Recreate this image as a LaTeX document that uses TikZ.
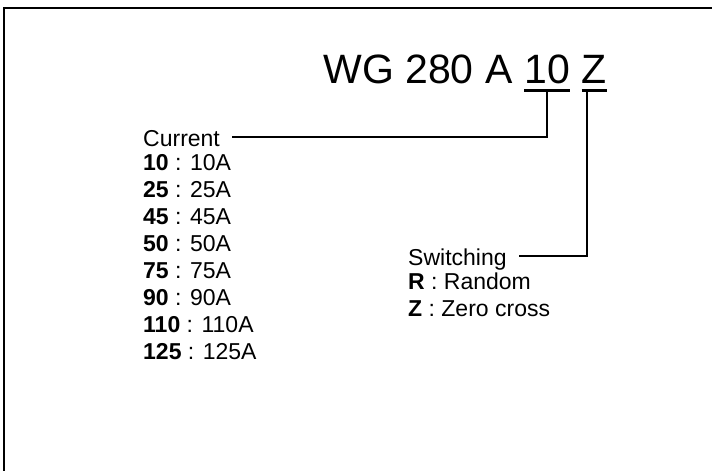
\documentclass[tikz,border=0pt]{standalone}
\usepackage{fontspec}
\setmainfont{Liberation Sans}
\usetikzlibrary{calc}
\begin{document}
\begin{tikzpicture}[x=1pt,y=-1pt,
  conn/.style={line width=2pt},
  uline/.style={line width=3pt},
  title/.style={font=\fontsize{41}{48}\selectfont, inner sep=0pt, anchor=base east},
  lbl/.style={font=\fontsize{23}{27}\selectfont, inner sep=0pt, anchor=base west, align=left}]
\useasboundingbox (0,0) rectangle (712,471);
\draw[line width=2pt] (4,471) -- (4,8) -- (712,8);
% title
\node[title] (tZ) at (607,83) {Z};
\node[title] (t10) at ([xshift=-11.4pt]tZ.base west) {10};
\node[title] (tpre) at ([xshift=-11.4pt]t10.base west) {WG 280 A};
\draw[uline] ([yshift=-7pt]t10.base west) -- ([yshift=-7pt]t10.base east);
\draw[uline] ([yshift=-7pt]tZ.base west) -- ([yshift=-7pt]tZ.base east);
\coordinate (d10) at ($(t10.base west)!0.5!(t10.base east)+(0,-7pt)$);
\coordinate (dZ) at ([xshift=5pt,yshift=-7pt]tZ.base west);
% current
\node[lbl] (cur) at (143,146) {Current};
\node[lbl, anchor=north west] (curlist) at ([yshift=-8pt]cur.base west) {%
\textbf{10} : 10A\\ \textbf{25} : 25A\\ \textbf{45} : 45A\\ \textbf{50} : 50A\\
\textbf{75} : 75A\\ \textbf{90} : 90A\\ \textbf{110} : 110A\\ \textbf{125} : 125A};
\draw[conn] (d10) |- ([xshift=12pt,yshift=9pt]cur.base east);
% switching
\node[lbl] (sw) at (408,265) {Switching};
\node[lbl, anchor=north west] (swlist) at ([yshift=-8pt]sw.base west) {%
\textbf{R} : Random\\ \textbf{Z} : Zero cross};
\draw[conn] (dZ) |- ([xshift=12pt,yshift=9pt]sw.base east);
\end{tikzpicture}
\end{document}
